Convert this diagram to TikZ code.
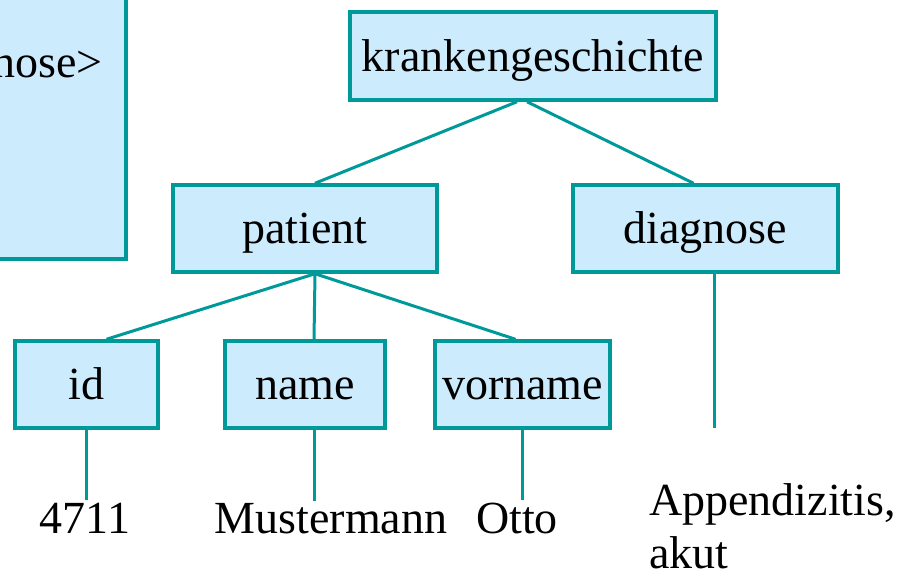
\documentclass[tikz,border=0pt]{standalone}
\usepackage{fontspec}
\setmainfont{Liberation Serif}
\definecolor{treeline}{RGB}{0,153,153}
\definecolor{treefill}{RGB}{204,235,252}

\begin{document}
\begin{tikzpicture}[
                        x = 1pt,
                        y = -1pt,
                        font = \fontsize{46}{53}\selectfont
                        ]

                        \tikzstyle{box}=[
                                draw = treeline,
                                line width = 3.5pt,
                                fill = treefill,
                                rectangle,
                                inner sep = 0pt,
                                text height = 30pt,
                                text depth = 0pt,
                                minimum height = 87pt
                        ]
                        \tikzstyle{leaf}=[
                                inner xsep = 0pt,
                                inner ysep = 2pt
                        ]
                        \tikzstyle{edge}=[
                                draw = treeline,
                                line width = 3pt
                        ]

                        \useasboundingbox (0,0) rectangle (912,574);

                        \node[box, minimum width=226pt, minimum height=309pt] (dtd) at (13,104.5) {};
                        \node (dtdtext) [anchor=base east, inner sep=0pt] at (103,77) {nose>};

                        \node[box, minimum width=366pt, minimum height=88pt] (kg) at (533,56) {krankengeschichte};
                        \node[box, minimum width=264pt] (patient) at (305,228.5) {patient};
                        \node[box, minimum width=265pt] (diagnose) at (705.5,228.5) {diagnose};
                        \node[box, minimum width=143pt] (id) at (86.5,384.5) {id};
                        \node[box, minimum width=160pt] (name) at (305,384.5) {name};
                        \node[box, minimum width=175pt] (vorname) at (522.5,384.5) {vorname};

                        \node[leaf, anchor=base] (nr) at (85,533) {4711};
                        \node[leaf, anchor=base] (mustermann) at (331,533) {Mustermann};
                        \node[leaf, anchor=base] (otto) at (517,533) {Otto};
                        \node[align=left, inner sep=0pt, anchor=base west] (appendix) at (649,568) {Appendizitis,\\akut};
                        \coordinate (diagend) at (714,428);

                        \draw[edge] ([xshift=-16pt]kg.south) -- ([xshift=10pt]patient.north);
                        \draw[edge] ([xshift=-6pt]kg.south) -- ([xshift=-12pt]diagnose.north);
                        \draw[edge] ([xshift=10pt]patient.south) -- ([xshift=20pt]id.north);
                        \draw[edge] ([xshift=10pt]patient.south) -- ([xshift=9pt]name.north);
                        \draw[edge] ([xshift=10pt]patient.south) -- ([xshift=-7pt]vorname.north);
                        \draw[edge] (id.south) -- (id.south |- nr.north);
                        \draw[edge] ([xshift=9pt]name.south) -- ([xshift=9pt]name.south |- mustermann.north);
                        \draw[edge] (vorname.south) -- (vorname.south |- otto.north);
                        \draw[edge] ([xshift=8.5pt]diagnose.south) -- (diagend);
                \end{tikzpicture}
\end{document}
